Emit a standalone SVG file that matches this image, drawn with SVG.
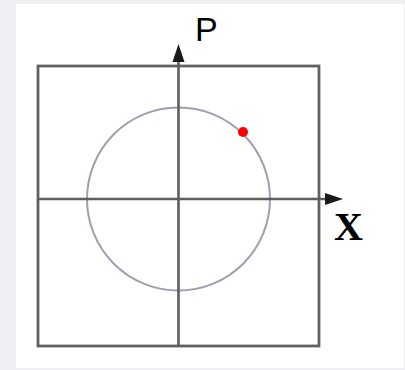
<svg xmlns="http://www.w3.org/2000/svg" width="405" height="370" viewBox="0 0 405 370">
  <defs>
    <style>
      .frame { fill: none; stroke: #616161; stroke-width: 2.8; }
      .axis { stroke: #5e5e5e; stroke-width: 2.6; fill: none; }
      .circ { fill: none; stroke: #a29db0; stroke-width: 2; }
    </style>
    <marker id="arr" viewBox="0 0 10 10" refX="9" refY="5" markerWidth="6" markerHeight="6" orient="auto" markerUnits="userSpaceOnUse">
      <path d="M0,0 L10,5 L0,10 Z" fill="#111"/>
    </marker>
  </defs>
  <rect x="0" y="0" width="405" height="370" fill="#eef0f3"/>
  <rect x="16" y="4" width="388" height="364" fill="#ffffff"/>
  <g id="frame">
    <rect class="frame" x="38" y="66" width="281" height="280"/>
  </g>
  <g id="circle">
    <circle class="circ" cx="178.5" cy="199" r="91.5"/>
  </g>
  <g id="connectors">
    <line class="axis" x1="178.5" y1="346" x2="178.5" y2="50"/>
    <path d="M178.5,44 L172.5,62 L184.5,62 Z" fill="#1a1a1a"/>
    <line class="axis" x1="38" y1="199" x2="336" y2="199"/>
    <path d="M343,199 L325,193 L325,205 Z" fill="#1a1a1a"/>
  </g>
  <g id="point">
    <circle cx="243" cy="132" r="5" fill="#ff0000"/>
  </g>
  <g id="labels">
    <text x="195" y="41" font-family="Liberation Sans, Arial, sans-serif" font-size="34" fill="#000">P</text>
    <text x="334" y="240" font-family="Liberation Serif, Times New Roman, serif" font-weight="bold" font-size="40" fill="#000">X</text>
  </g>
</svg>
